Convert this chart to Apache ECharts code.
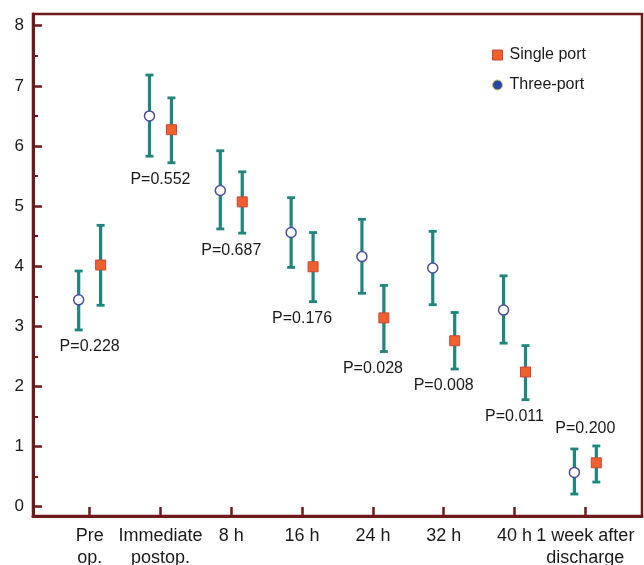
<!DOCTYPE html>
<html>
<head>
<meta charset="utf-8">
<script src="https://cdn.jsdelivr.net/npm/echarts@6/dist/echarts.min.js"></script>
<style>html,body{margin:0;padding:0;background:#fff;}#c{width:644px;height:565px;}</style>
</head>
<body>
<div id="c"></div>
<script>
const categories = ['Pre\nop.', 'Immediate\npostop.', '8 h', '16 h', '24 h', '32 h', '40 h', '1 week after\ndischarge'];
const threeMean = [3.44, 6.50, 5.26, 4.56, 4.16, 3.97, 3.27, 0.57];
const threeLo   = [2.94, 5.83, 4.62, 3.98, 3.55, 3.36, 2.72, 0.21];
const threeHi   = [3.92, 7.18, 5.92, 5.14, 4.78, 4.58, 3.84, 0.96];
const singleMean = [4.02, 6.27, 5.07, 3.99, 3.14, 2.76, 2.24, 0.73];
const singleLo   = [3.35, 5.72, 4.55, 3.41, 2.58, 2.29, 1.78, 0.41];
const singleHi   = [4.68, 6.80, 5.57, 4.56, 3.68, 3.23, 2.68, 1.01];
const pValues = ['P=0.228', 'P=0.552', 'P=0.687', 'P=0.176', 'P=0.028', 'P=0.008', 'P=0.011', 'P=0.200'];
const pPlacement = ['below', 'below', 'below', 'below', 'below', 'below', 'below', 'above'];
const yTicks = [0, 1, 2, 3, 4, 5, 6, 7, 8];
const yMinorTicks = [0.5, 1.5, 2.5, 3.5, 4.5, 5.5, 6.5, 7.5];

const OFF = 0.155;
const AXIS = '#6e1a1c';
const ERR = '#1f857d';
const TXT = '#1a1a1a';
const FONT = '"Liberation Sans", Arial, Helvetica, sans-serif';
const xPos = categories.map((c, i) => i + 1);

function errRender(params, api) {
  const x = api.value(0), lo = api.value(1), hi = api.value(2);
  const a = api.coord([x, hi]), b = api.coord([x, lo]);
  const cw = 4;
  return { type: 'group', children: [
    { type: 'line', shape: { x1: a[0], y1: a[1], x2: b[0], y2: b[1] }, style: { stroke: ERR, lineWidth: 3.2 } },
    { type: 'line', shape: { x1: a[0] - cw, y1: a[1], x2: a[0] + cw, y2: a[1] }, style: { stroke: ERR, lineWidth: 2.8 } },
    { type: 'line', shape: { x1: b[0] - cw, y1: b[1], x2: b[0] + cw, y2: b[1] }, style: { stroke: ERR, lineWidth: 2.8 } }
  ]};
}

function pRender(params, api) {
  const i = params.dataIndex;
  const x = api.value(0), lo = api.value(1), hi = api.value(2);
  let p;
  if (pPlacement[i] === 'above') { p = api.coord([x, hi]); p[1] -= 17; }
  else { p = api.coord([x, lo]); p[1] += 17; }
  return { type: 'text', x: p[0], y: p[1], style: {
    text: pValues[i], fill: TXT, font: '16px ' + FONT, align: 'center', verticalAlign: 'middle' } };
}

const chart = echarts.init(document.getElementById('c'), null, { renderer: 'canvas' });
chart.setOption({
  animation: false,
  backgroundColor: '#fff',
  grid: { left: 33, right: 2, top: 14, bottom: 49, outerBoundsMode: 'none', containLabel: false,
          show: true, borderColor: AXIS, borderWidth: 2.5, backgroundColor: 'transparent' },
  legend: {
    orient: 'vertical', left: 487, top: 42, itemWidth: 10, itemHeight: 10, itemGap: 14,
    textStyle: { fontSize: 16, color: TXT, fontFamily: FONT, padding: [0, 0, 0, 2] },
    data: [
      { name: 'Single port', icon: 'rect', itemStyle: { color: '#f0602c', borderColor: '#c8463c', borderWidth: 1 } },
      { name: 'Three-port', icon: 'circle', itemStyle: { color: '#2448a5', borderColor: '#e8c060', borderWidth: 1 } }
    ]
  },
  xAxis: {
    type: 'value', min: 0.2, max: 8.8,
    axisLine: { show: true, onZero: false, lineStyle: { color: AXIS, width: 3 } },
    axisTick: { show: true, inside: true, length: 9, lineStyle: { color: AXIS, width: 2.5 }, customValues: xPos },
    axisLabel: { customValues: xPos, formatter: v => categories[Math.round(v) - 1] || '', fontSize: 18, lineHeight: 22, color: TXT, fontFamily: FONT, margin: 9 },
    splitLine: { show: false }
  },
  yAxis: [{
    type: 'value', min: -0.155, max: 8.195,
    axisLine: { show: true, onZero: false, lineStyle: { color: AXIS, width: 3 } },
    axisTick: { show: true, inside: true, length: 9, lineStyle: { color: AXIS, width: 2.5 }, customValues: yTicks },
    axisLabel: { customValues: yTicks, fontSize: 17, color: TXT, fontFamily: FONT, margin: 9 },
    splitLine: { show: false }
  }, {
    type: 'value', min: -0.155, max: 8.195, position: 'left',
    axisLine: { show: false, onZero: false },
    axisTick: { show: true, inside: true, length: 5, lineStyle: { color: AXIS, width: 2 }, customValues: yMinorTicks },
    axisLabel: { show: false },
    splitLine: { show: false }
  }],
  series: [
    { type: 'custom', name: 'errThree', renderItem: errRender, encode: { x: 0, y: [1, 2] }, z: 2,
      data: xPos.map((x, i) => [x - OFF, threeLo[i], threeHi[i]]) },
    { type: 'custom', name: 'errSingle', renderItem: errRender, encode: { x: 0, y: [1, 2] }, z: 2,
      data: xPos.map((x, i) => [x + OFF, singleLo[i], singleHi[i]]) },
    { type: 'scatter', name: 'Three-port', symbol: 'circle', symbolSize: 10, z: 5,
      itemStyle: { color: '#ffffff', borderColor: '#4b4d9e', borderWidth: 1.5, opacity: 1 },
      data: xPos.map((x, i) => [x - OFF, threeMean[i]]) },
    { type: 'scatter', name: 'Single port', symbol: 'rect', symbolSize: 10, z: 5,
      itemStyle: { color: '#f0602c', borderColor: '#c8463c', borderWidth: 1, opacity: 1 },
      data: xPos.map((x, i) => [x + OFF, singleMean[i]]) },
    { type: 'custom', name: 'pLabels', renderItem: pRender, encode: { x: 0, y: [1, 2] }, z: 6,
      data: xPos.map((x, i) => [x, Math.min(threeLo[i], singleLo[i]), Math.max(threeHi[i], singleHi[i])]) }
  ]
});
</script>
</body>
</html>
